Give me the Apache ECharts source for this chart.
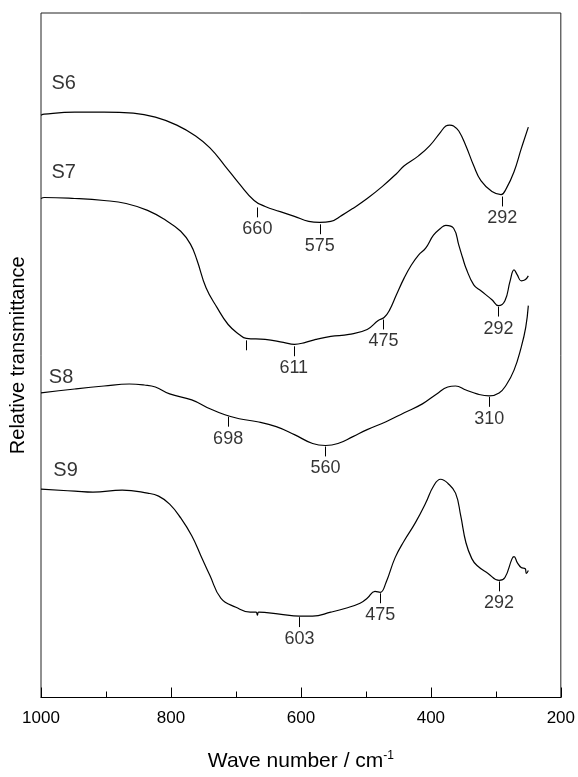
<!DOCTYPE html>
<html><head><meta charset="utf-8">
<script src="https://cdn.jsdelivr.net/npm/echarts@6/dist/echarts.min.js"></script>
<style>html,body{margin:0;padding:0;background:#fff}#c{width:578px;height:777px}</style>
</head><body><div id="c"></div>
<script>
// Wave numbers (cm^-1) and relative transmittance (arbitrary units, offset traces)
const s6 = [[1000,58.7],[995,58.8],[948,59.0],[903,59.0],[858,58.9],[824,58.5],[791,57.7],[762,56.6],[740,55.4],[717,53.6],[695,51.8],[672,50.1],[655,49.5],[633,49.0],[610,48.5],[588,48.0],[571,47.9],[554,48.0],[537,48.6],[520,49.3],[498,50.3],[475,51.5],[453,52.8],[441,53.6],[419,54.6],[402,55.6],[385,57.0],[377,57.6],[371,57.7],[365,57.6],[357,57.1],[346,55.6],[334,53.6],[323,52.1],[306,51.0],[292,50.7],[284,51.3],[272,53.0],[261,55.3],[250,57.5]];
const s7 = [[1000,50.3],[995,50.4],[948,50.3],[903,50.1],[869,49.8],[836,49.1],[808,48.1],[785,47.0],[770,45.7],[760,44.1],[746,41.3],[729,39.3],[712,37.6],[695,36.6],[684,36.2],[655,36.1],[627,35.8],[610,35.6],[593,35.8],[577,36.1],[554,36.4],[526,36.6],[498,37.1],[481,38.0],[472,38.3],[464,39.0],[453,40.6],[441,42.3],[430,43.6],[419,44.6],[408,45.3],[396,46.6],[385,47.3],[377,47.6],[365,47.3],[357,45.6],[351,44.3],[346,43.3],[334,41.6],[323,41.0],[306,40.1],[296,39.5],[286,40.0],[278,42.0],[272,43.1],[267,42.6],[261,42.0],[255,42.1],[250,42.5]];
const s8 = [[1000,30.7],[948,31.1],[903,31.4],[864,31.6],[841,31.5],[824,31.3],[802,30.6],[768,30.0],[740,29.1],[717,28.5],[695,28.1],[667,27.8],[638,27.3],[610,26.5],[582,25.6],[562,25.4],[543,25.6],[520,26.3],[498,27.0],[469,27.8],[441,28.7],[413,29.6],[391,30.6],[374,31.3],[362,31.4],[346,31.0],[329,30.6],[310,30.4],[295,30.7],[284,31.5],[272,33.0],[261,35.3],[254,37.3],[250,39.5]];
const s9 = [[1000,21.0],[948,20.8],[920,20.7],[875,20.9],[836,20.6],[819,20.3],[802,19.5],[785,18.1],[768,16.3],[754,14.3],[740,12.3],[723,10.0],[700,9.1],[678,8.6],[669,8.6],[667,8.3],[665,8.6],[633,8.4],[602,8.2],[582,8.2],[554,8.6],[531,9.0],[509,9.5],[498,10.0],[486,10.7],[478,10.6],[469,11.6],[455,14.1],[441,15.8],[424,17.6],[408,19.6],[396,21.3],[385,22.0],[374,21.6],[362,20.6],[354,18.3],[346,15.6],[337,14.0],[329,13.3],[312,12.5],[295,11.8],[286,12.1],[275,14.0],[272,14.2],[267,13.6],[261,13.1],[255,13.0],[253,12.5],[250,12.8]];

// Band annotations: tick position, tick top, text
const s6MarkPos = [667, 571, 290];
const s6MarkTop = [49.4, 47.7, 50.5];
const s6MarkText = ['660', '575', '292'];
const s7MarkPos = [684, 611, 473, 296];
const s7MarkTop = [36.0, 35.4, 38.1, 39.4];
const s7MarkText = ['', '611', '475', '292'];
const s8MarkPos = [712, 562, 310];
const s8MarkTop = [28.3, 25.3, 30.3];
const s8MarkText = ['698', '560', '310'];
const s9MarkPos = [602, 478, 295];
const s9MarkTop = [8.1, 10.5, 11.7];
const s9MarkText = ['603', '475', '292'];

const seriesNames = ['S6', 'S7', 'S8', 'S9'];
const seriesNamePos = [[984, 61.9], [984, 52.9], [988, 32.3], [981, 22.9]];

const xTicks = [1000, 800, 600, 400, 200];

const FONT = "'Liberation Sans', Arial, Helvetica, sans-serif";
const INK = '#000';
const TICK_LEN = 1.0;

const chart = echarts.init(document.getElementById('c'), null, {renderer: 'canvas'});

function curve(name, data, pos, top) {
  return {
    name: name, type: 'line', data: data, showSymbol: false, smooth: 0.45,
    lineStyle: {color: INK, width: 1.2}, animation: false, silent: true,
    markLine: {
      symbol: 'none', silent: true, animation: false,
      label: {show: false},
      lineStyle: {color: INK, width: 1, type: 'solid'},
      data: pos.map((p, i) => [{coord: [p, top[i]]}, {coord: [p, top[i] - TICK_LEN]}])
    }
  };
}
function marks(pos, top, text) {
  return {
    type: 'scatter', symbolSize: 0, silent: true, animation: false,
    data: pos.map((p, i) => ({value: [p, top[i] - TICK_LEN], label: {formatter: text[i]}})),
    label: {show: true, position: 'bottom', distance: 3, fontSize: 18, color: INK, fontFamily: FONT}
  };
}

chart.setOption({
  animation: false,
  grid: {left: 40, right: 14, top: 13, bottom: 74, show: true, borderColor: '#222', borderWidth: 1, backgroundColor: 'transparent'},
  xAxis: {
    type: 'value', min: 200, max: 1000, interval: 200, inverse: true,
    axisLine: {onZero: false, lineStyle: {color: INK, width: 1}},
    axisTick: {inside: true, length: 10, lineStyle: {color: INK}},
    minorTick: {show: true, splitNumber: 2, length: 6, lineStyle: {color: INK}},
    splitLine: {show: false}, minorSplitLine: {show: false},
    axisLabel: {fontSize: 17, color: INK, margin: 12, fontFamily: FONT,
      formatter: v => xTicks.includes(v) ? String(v) : ''},
    name: '{a|Wave number / cm}{b|-1}', nameLocation: 'middle', nameGap: 52,
    nameTextStyle: {fontFamily: FONT, color: INK, fontSize: 21,
      rich: {a: {fontSize: 21, fontFamily: FONT, color: INK, lineHeight: 24},
             b: {fontSize: 12, fontFamily: FONT, color: INK, verticalAlign: 'top', lineHeight: 24, padding: [0, 0, 9, 0]}}}
  },
  yAxis: {
    type: 'value', min: 0, max: 69,
    axisLine: {show: false}, axisTick: {show: false}, axisLabel: {show: false}, splitLine: {show: false},
    name: 'Relative transmittance', nameLocation: 'middle', nameGap: 13,
    nameTextStyle: {fontFamily: FONT, color: INK, fontSize: 20}
  },
  series: [
    curve('S6', s6, s6MarkPos, s6MarkTop),
    curve('S7', s7, s7MarkPos, s7MarkTop),
    curve('S8', s8, s8MarkPos, s8MarkTop),
    curve('S9', s9, s9MarkPos, s9MarkTop),
    marks(s6MarkPos, s6MarkTop, s6MarkText),
    marks(s7MarkPos, s7MarkTop, s7MarkText),
    marks(s8MarkPos, s8MarkTop, s8MarkText),
    marks(s9MarkPos, s9MarkTop, s9MarkText),
    {
      type: 'scatter', symbolSize: 0, silent: true, animation: false,
      data: seriesNamePos.map((p, i) => ({value: p, label: {formatter: seriesNames[i]}})),
      label: {show: true, position: 'right', distance: 0, fontSize: 20, color: INK, fontFamily: FONT}
    }
  ]
});
</script>
</body></html>
